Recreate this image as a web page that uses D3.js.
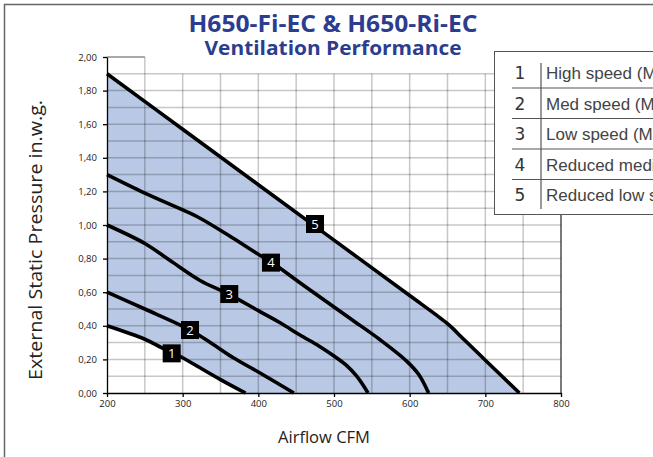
<!DOCTYPE html>
<html><head><meta charset="utf-8">
<script src="https://cdn.jsdelivr.net/npm/d3@7"></script>
<style>body{margin:0;background:#fff;}svg{display:block;}</style>
</head><body>
<svg id="c" width="653" height="457"></svg>
<script>
// ---- data ----
const curve1 = [[200,0.40],[250,0.32],[272,0.27],[300,0.21],[323,0.15],[350,0.08],[383,0.0]];
const curve2 = [[200,0.60],[250,0.50],[310,0.375],[340,0.29],[367,0.21],[400,0.125],[447,0.0]];
const curve3 = [[200,1.00],[250,0.89],[283,0.79],[323,0.67],[360,0.59],[400,0.49],[430,0.415],[455,0.345],[480,0.28],[500,0.22],[515,0.17],[530,0.10],[545,0.0]];
const curve4 = [[200,1.30],[250,1.19],[300,1.09],[323,1.04],[360,0.94],[402,0.82],[417,0.78],[460,0.64],[521,0.445],[560,0.32],[596,0.19],[612,0.11],[625,0.0]];
const curve5 = [[200,1.90],[300,1.57],[400,1.24],[500,0.91],[600,0.58],[635,0.465],[648,0.42],[658,0.38],[668,0.335],[700,0.195],[745,0.0]];
const curveLabels = [["1",285.5,0.236],["2",309.7,0.375],["3",361.6,0.589],["4",416.7,0.776],["5",474.9,1.006]];
const legendNums = ["1","2","3","4","5"];
const legendTexts = ["High speed (Max)","Med speed (Max)","Low speed (Max)","Reduced medium speed","Reduced low speed"];
const xTicks = [200,300,400,500,600,700,800];
const yTicks = [0,0.2,0.4,0.6,0.8,1.0,1.2,1.4,1.6,1.8,2.0];
const xGrid = [250,300,350,400,450,500,550,600,650,700,750];
const yGrid = [0.1,0.2,0.3,0.4,0.5,0.6,0.7,0.8,0.9,1.0,1.1,1.2,1.3,1.4,1.5,1.6,1.7,1.8,1.9];
const titleLines = ["H650-Fi-EC & H650-Ri-EC","Ventilation Performance"];
const xTitle = "Airflow CFM";
const yTitle = "External Static Pressure in.w.g.";

// ---- drawing ----
const svg = d3.select("#c");
const x = d3.scaleLinear().domain([200,800]).range([107,561]);
const y = d3.scaleLinear().domain([0,2]).range([393,57]);

// outer frame
svg.append("path").attr("d",`M4.5,457 L4.5,4.5 L653,4.5`).attr("fill","none").attr("stroke","#666").attr("stroke-width",1.5);

// fill area
const lg = d3.line().x(d=>x(d[0])).y(d=>y(d[1])).curve(d3.curveCatmullRom.alpha(0.5));
const topPath = lg(curve5);
const botPath = lg(curve1.slice().reverse()).replace(/^M/,"L");
svg.append("path").attr("d", topPath + `L${x(383)},${y(0)}` + botPath + "Z").attr("fill","#b9c8e4");

// grid
const g = svg.append("g").attr("stroke","#000").attr("stroke-opacity",0.22).attr("stroke-width",1.5);
g.selectAll("line.v").data(xGrid).join("line")
  .attr("x1",d=>x(d)).attr("x2",d=>x(d)).attr("y1",y(0)).attr("y2",d=>d===250?y(2):y(1.9));
g.selectAll("line.h").data(yGrid).join("line")
  .attr("x1",x(200)).attr("x2",x(800)).attr("y1",d=>y(d)).attr("y2",d=>y(d));
svg.append("line").attr("x1",x(200)).attr("x2",x(250)).attr("y1",y(2)).attr("y2",y(2)).attr("stroke","#555").attr("stroke-width",1.2);
svg.append("line").attr("x1",x(800)).attr("x2",x(800)).attr("y1",y(1.9)).attr("y2",y(0)).attr("stroke","#222").attr("stroke-width",1.2);

// curves
[curve1,curve2,curve3,curve4,curve5].forEach(c=>{
  svg.append("path").attr("d",lg(c)).attr("fill","none").attr("stroke","#000").attr("stroke-width",3.6).attr("stroke-linecap","butt");
});

// axes
const fmt = d => d.toFixed(2).replace(".",",");
const ya = svg.append("g").attr("transform",`translate(${x(200)},0)`)
  .call(d3.axisLeft(y).tickValues(yTicks).tickFormat(fmt).tickSize(4).tickSizeOuter(0).tickPadding(6));
const xa = svg.append("g").attr("transform",`translate(0,${y(0)})`)
  .call(d3.axisBottom(x).tickValues(xTicks).tickFormat(d3.format("d")).tickSize(4).tickSizeOuter(0).tickPadding(3));
[ya,xa].forEach(a=>{
  a.selectAll("text").attr("font-family","'Open Sans', sans-serif").attr("font-size",9.5).attr("fill","#222");
  a.selectAll("path,line").attr("stroke","#000").attr("stroke-width",1.3);
});

// curve labels
const lab = svg.selectAll("g.lab").data(curveLabels).join("g").attr("transform",d=>`translate(${x(d[1])},${y(d[2])})`);
lab.append("rect").attr("x",-9).attr("y",-9).attr("width",18).attr("height",18).attr("fill","#000");
lab.append("text").text(d=>d[0]).attr("text-anchor","middle").attr("dy","0.36em")
  .attr("font-family","'Open Sans', sans-serif").attr("font-size",13).attr("fill","#fff");

// axis titles
svg.append("text").text(xTitle).attr("x",324).attr("y",443).attr("text-anchor","middle")
  .attr("font-family","'Open Sans', sans-serif").attr("font-size",17).attr("fill","#222")
  .attr("textLength",92).attr("lengthAdjust","spacingAndGlyphs");
svg.append("text").text(yTitle).attr("transform","translate(42,240) rotate(-90)").attr("text-anchor","middle")
  .attr("font-family","'Open Sans', sans-serif").attr("font-size",18).attr("fill","#222")
  .attr("textLength",280).attr("lengthAdjust","spacingAndGlyphs");

// legend
const L = svg.append("g");
L.append("rect").attr("x",494.5).attr("y",51.5).attr("width",200).attr("height",163).attr("fill","#fff").attr("stroke","#555").attr("stroke-width",1);
L.append("line").attr("x1",541).attr("x2",541).attr("y1",63).attr("y2",209).attr("stroke","#555").attr("stroke-width",1.2);
[0,1,2,3].forEach(i=>{
  L.append("line").attr("x1",512).attr("x2",653).attr("y1",88+30.5*i).attr("y2",88+30.5*i).attr("stroke","#555").attr("stroke-width",1.2);
});
legendNums.forEach((n,i)=>{
  L.append("text").text(n).attr("x",520).attr("y",73+30.5*i).attr("dy","0.36em").attr("text-anchor","middle")
    .attr("font-family","'DejaVu Sans', sans-serif").attr("font-size",17).attr("fill","#333");
  L.append("text").text(legendTexts[i]).attr("x",546).attr("y",73+30.5*i).attr("dy","0.36em")
    .attr("font-family","'Liberation Sans', Arial, sans-serif").attr("font-size",17).attr("fill","#444");
});

// title
svg.append("text").text(titleLines[0]).attr("x",333).attr("y",32).attr("text-anchor","middle")
  .attr("font-family","'Open Sans', sans-serif").attr("font-weight",700).attr("font-size",22.5).attr("fill","#2c3d8f")
  .attr("textLength",289).attr("lengthAdjust","spacingAndGlyphs");
svg.append("text").text(titleLines[1]).attr("x",333).attr("y",55).attr("text-anchor","middle")
  .attr("font-family","'Open Sans', sans-serif").attr("font-weight",700).attr("font-size",20).attr("fill","#2c3d8f")
  .attr("textLength",257).attr("lengthAdjust","spacingAndGlyphs");
</script>
</body></html>
